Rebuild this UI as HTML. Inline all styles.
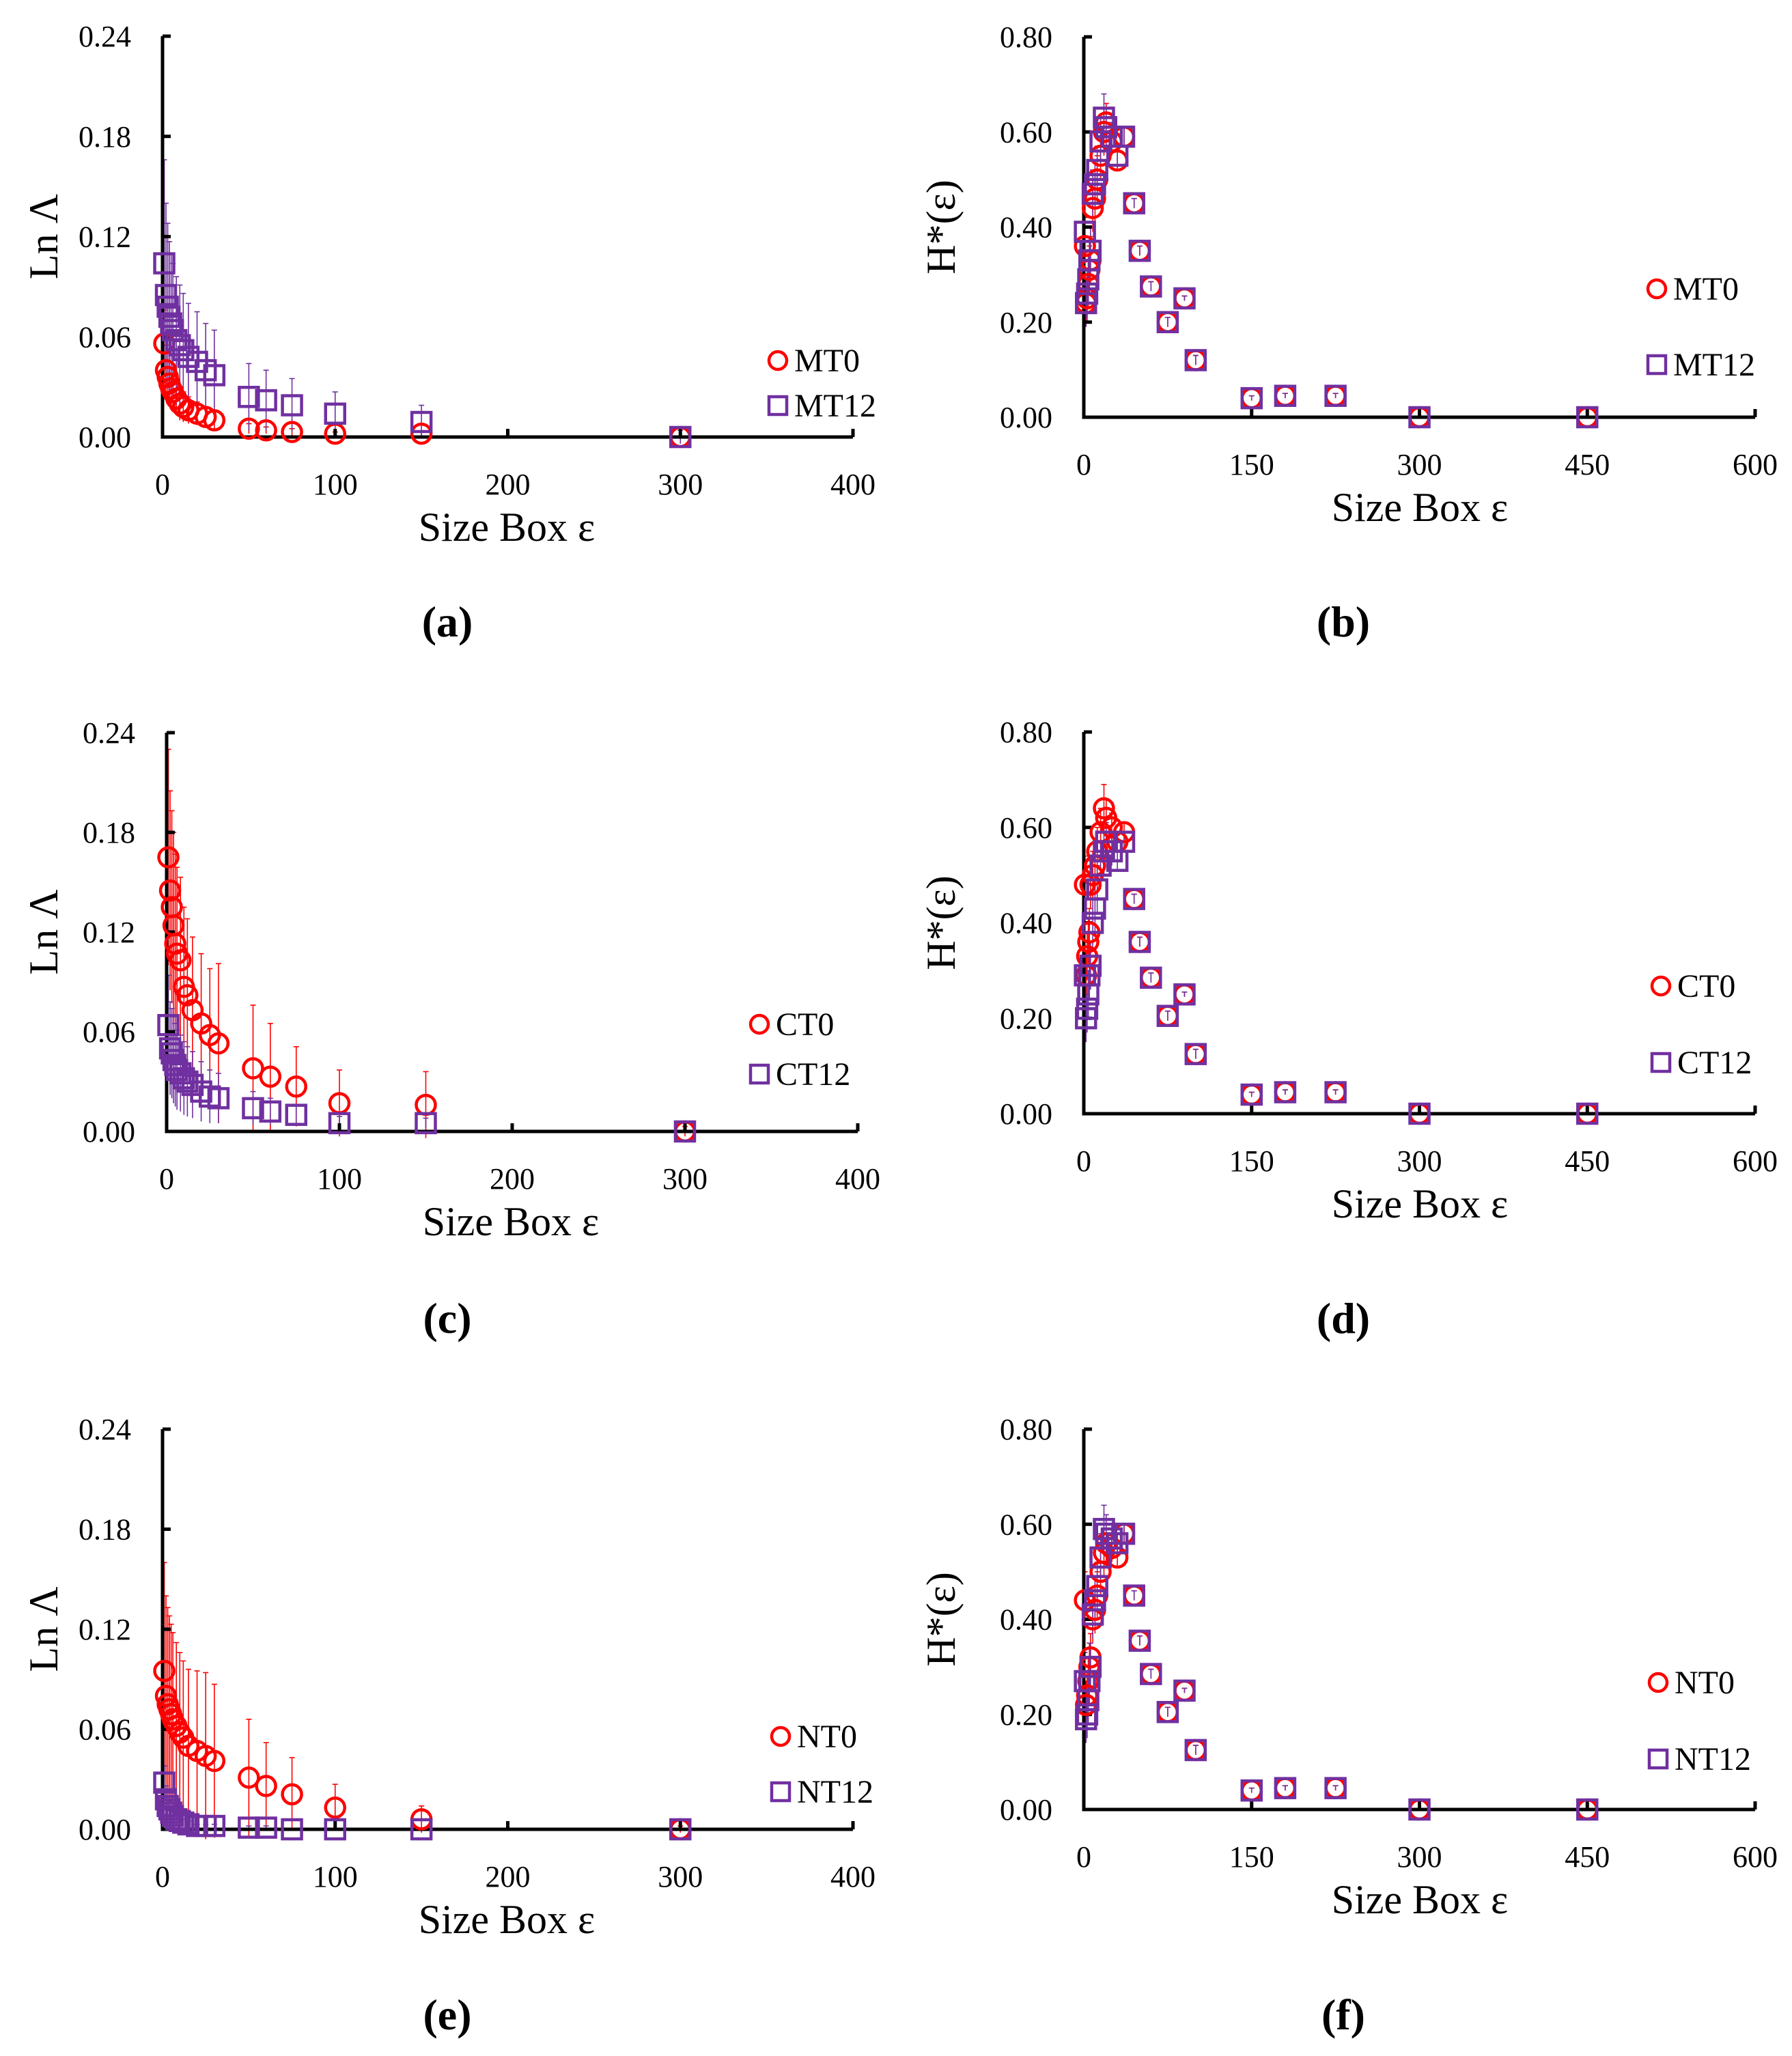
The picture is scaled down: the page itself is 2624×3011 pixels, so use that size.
<!DOCTYPE html>
<html><head><meta charset="utf-8">
<style>
html,body{margin:0;padding:0;background:#fff;}
svg{display:block;font-family:"Liberation Serif",serif;}
</style></head>
<body>
<svg id="fig" width="2624" height="3011" viewBox="0 0 2624 3011" xmlns="http://www.w3.org/2000/svg"></svg>
<script>
// ---- data ----
const lnX = [1,2,3,4,5,6,8,10,12,15,20,25,30,50,60,75,100,150,300];
const MT0ln = [0.056,0.040,0.036,0.032,0.029,0.027,0.023,0.020,0.018,0.016,0.014,0.012,0.010,0.005,0.004,0.003,0.002,0.002,0];
const MT12ln = [0.104,0.085,0.078,0.072,0.068,0.064,0.058,0.055,0.052,0.048,0.045,0.040,0.037,0.024,0.022,0.019,0.014,0.009,0];
const MT0lnErr = [0.02,0.015,0.014,0.013,0.012,0.011,0.01,0.01,0.009,0.008,0.007,0.006,0.005,0.003,0.002,0.002,0.001,0.001,0];
const MT12lnErr = [0.062,0.055,0.05,0.045,0.042,0.04,0.038,0.036,0.034,0.032,0.03,0.028,0.027,0.02,0.018,0.016,0.013,0.01,0.004];
const CT0ln = [0.165,0.145,0.135,0.124,0.113,0.107,0.103,0.087,0.082,0.073,0.065,0.058,0.053,0.038,0.033,0.027,0.017,0.016,0];
const CT12ln = [0.064,0.050,0.047,0.043,0.040,0.037,0.035,0.032,0.030,0.028,0.024,0.021,0.020,0.014,0.012,0.010,0.005,0.005,0];
const CT0lnErr = [0.065,0.06,0.058,0.056,0.054,0.052,0.05,0.048,0.046,0.044,0.042,0.04,0.048,0.038,0.032,0.024,0.02,0.02,0.003];
const CT12lnErr = [0.03,0.028,0.027,0.026,0.025,0.024,0.023,0.022,0.021,0.02,0.018,0.016,0.015,0.01,0.008,0.006,0.004,0.003,0];
const NT0ln = [0.095,0.080,0.075,0.072,0.069,0.066,0.062,0.058,0.055,0.050,0.047,0.044,0.041,0.031,0.026,0.021,0.013,0.006,0];
const NT12ln = [0.028,0.018,0.014,0.012,0.010,0.008,0.006,0.005,0.004,0.003,0.002,0.002,0.002,0.001,0.001,0,0,0,0];
const NT0lnErr = [0.065,0.06,0.058,0.056,0.054,0.052,0.05,0.048,0.046,0.046,0.048,0.05,0.046,0.035,0.026,0.022,0.014,0.008,0.002];
const NT12lnErr = [0.01,0.008,0.006,0.005,0.004,0.003,0.003,0.002,0.002,0.002,0.001,0.001,0.001,0.001,0.001,0,0,0,0];

const hX = [1,2,3,4,5,6,8,10,12,15,18,20,25,30,36,45,50,60,75,90,100,150,180,225,300,450];
const MT0h = [0.36,0.24,0.25,0.28,0.31,0.33,0.44,0.46,0.50,0.55,0.60,0.62,0.58,0.54,0.59,0.45,0.35,0.275,0.20,0.25,0.12,0.04,0.045,0.045,0,0];
const MT12h = [0.39,0.24,0.26,0.29,0.33,0.35,0.47,0.49,0.52,0.58,0.63,0.61,0.59,0.55,0.59,0.45,0.35,0.275,0.20,0.25,0.12,0.04,0.045,0.045,0,0];
const CT0h = [0.48,0.29,0.33,0.36,0.38,0.48,0.50,0.52,0.55,0.59,0.64,0.62,0.60,0.57,0.59,0.45,0.36,0.285,0.205,0.25,0.125,0.04,0.045,0.045,0,0];
const CT12h = [0.29,0.20,0.22,0.25,0.29,0.31,0.40,0.43,0.47,0.52,0.55,0.57,0.55,0.53,0.57,0.45,0.36,0.285,0.205,0.25,0.125,0.04,0.045,0.045,0,0];
const NT0h = [0.44,0.22,0.24,0.27,0.30,0.32,0.40,0.42,0.45,0.50,0.54,0.56,0.55,0.53,0.58,0.45,0.355,0.285,0.205,0.25,0.125,0.04,0.045,0.045,0,0];
const NT12h = [0.27,0.19,0.20,0.23,0.27,0.30,0.41,0.44,0.47,0.53,0.59,0.58,0.57,0.56,0.58,0.45,0.355,0.285,0.205,0.25,0.125,0.04,0.045,0.045,0,0];
const hErr = [0.06,0.05,0.05,0.05,0.05,0.05,0.05,0.05,0.05,0.05,0.05,0.04,0.03,0.02,0.02,0.01,0.01,0.01,0.01,0.005,0.01,0.005,0.005,0.005,0,0];

const lnTicksY = [0,0.06,0.12,0.18,0.24];
const lnTickLabelsY = ["0.00","0.06","0.12","0.18","0.24"];
const lnTicksX = [0,100,200,300,400];
const hTicksY = [0,0.2,0.4,0.6,0.8];
const hTickLabelsY = ["0.00","0.20","0.40","0.60","0.80"];
const hTicksX = [0,150,300,450,600];

const RED = "#ff0000", PUR = "#7030a0";
const NS = "http://www.w3.org/2000/svg";
const svg = document.getElementById('fig');
function mk(tag, attrs, parent, text){
  const e = document.createElementNS(NS, tag);
  for (const k in attrs) e.setAttribute(k, attrs[k]);
  if (text !== undefined) e.textContent = text;
  (parent || svg).appendChild(e);
  return e;
}

function panel(p){
  const g = mk('g', {});
  
  
  const sx = v => p.x0 + (v - 0) / p.xMax * (p.x1 - p.x0);
  const sy = v => p.y0 - v / p.yMax * (p.y0 - p.y1);
  p.series.forEach(s => {
    if (!s.err) return;
    s.vals.forEach((v, i) => {
      const e = s.err[i]; if (!e) return;
      const x = sx(p.xs[i]);
      const l = mk('line', {x1:x, x2:x, y1:sy(v - e), y2:sy(v + e), stroke:s.color, 'stroke-width':1.6}, g);
      
      
      mk('line', {x1:x-4, x2:x+4, y1:sy(v + e), y2:sy(v + e), stroke:s.color, 'stroke-width':1.6}, g);
    });
  });
  const ax = mk('path', {d:`M${p.x0},${p.y1} L${p.x0},${p.y0} L${p.x1},${p.y0}`, fill:'none', stroke:'#000', 'stroke-width':5}, g);
  
  
  p.ticksY.forEach((t, i) => {
    const y = sy(t);
    mk('line', {x1:p.x0, x2:p.x0 + 12, y1:y, y2:y, stroke:'#000', 'stroke-width':5}, g);
    const tl = mk('text', {x:p.x0 - 46, y:y + 15, 'text-anchor':'end', 'font-size':44, fill:'#000'}, g, p.tickLabelsY[i]);
    
    
  });
  p.ticksX.forEach(t => {
    const x = sx(t);
    mk('line', {x1:x, x2:x, y1:p.y0, y2:p.y0 - 12, stroke:'#000', 'stroke-width':5}, g);
    const tl = mk('text', {x:x, y:p.y0 + 84, 'text-anchor':'middle', 'font-size':44, fill:'#000'}, g, String(t));
    
    
  });
  p.series.forEach(s => {
    s.vals.forEach((v, i) => {
      const x = sx(p.xs[i]), y = sy(v);
      let m;
      if (s.shape === 'circle') m = mk('circle', {cx:x, cy:y, r:14, fill:'none', stroke:s.color, 'stroke-width':4.5}, g);
      else m = mk('rect', {x:x-14, y:y-14, width:28, height:28, fill:'none', stroke:s.color, 'stroke-width':4.5}, g);
      
      
    });
  });
  p.series.forEach((s, i) => {
    const lx = p.legX, ly = p.legY[i];
    if (s.shape === 'circle') mk('circle', {cx:lx, cy:ly, r:13, fill:'none', stroke:s.color, 'stroke-width':4.5}, g);
    else mk('rect', {x:lx-13, y:ly-13, width:26, height:26, fill:'none', stroke:s.color, 'stroke-width':4.5}, g);
    const t = mk('text', {x:lx + 24, y:ly + 16, 'font-size':48, fill:'#000'}, g, s.name);
    
    
  });
  const xt = mk('text', {x:p.xTitleX, y:p.y0 + 152, 'text-anchor':'middle', 'font-size':60, fill:'#000'}, g, 'Size Box ε');
  
  
  const ym = (p.y0 + p.y1) / 2;
  const yt = mk('text', {x:p.yTitleX, y:ym, 'text-anchor':'middle', 'font-size':60, fill:'#000', transform:`rotate(-90 ${p.yTitleX} ${ym})`}, g, p.yTitle);
  
  
  const lt = mk('text', {x:p.letterX, y:p.letterY, 'text-anchor':'middle', 'font-size':64, 'font-weight':'bold', fill:'#000'}, g, '(' + p.letter + ')');
  
  
}

const leftCommon = {xs:lnX, xMax:400, yMax:0.24, ticksY:lnTicksY, tickLabelsY:lnTickLabelsY, ticksX:lnTicksX, yTitle:'Ln Λ', yTitleX:84, letterX:655};
const rightCommon = {xs:hX, xMax:600, yMax:0.8, ticksY:hTicksY, tickLabelsY:hTickLabelsY, ticksX:hTicksX, yTitle:'H*(ε)', yTitleX:1398, letterX:1967, x0:1587, x1:2570, xTitleX:2079};

panel(Object.assign({}, leftCommon, {letter:'a', x0:238, x1:1249, y0:640, y1:53, xTitleX:742, letterY:932, legX:1139, legY:[528,594],
  series:[{name:'MT0', shape:'circle', color:RED, vals:MT0ln, err:MT0lnErr},{name:'MT12', shape:'rect', color:PUR, vals:MT12ln, err:MT12lnErr}]}));
panel(Object.assign({}, rightCommon, {letter:'b', y0:611, y1:54, letterY:932, legX:2426, legY:[423,534],
  series:[{name:'MT0', shape:'circle', color:RED, vals:MT0h, err:hErr},{name:'MT12', shape:'rect', color:PUR, vals:MT12h, err:hErr}]}));
panel(Object.assign({}, leftCommon, {letter:'c', x0:244, x1:1256, y0:1657, y1:1073, xTitleX:748, letterY:1952, legX:1112, legY:[1500,1573],
  series:[{name:'CT0', shape:'circle', color:RED, vals:CT0ln, err:CT0lnErr},{name:'CT12', shape:'rect', color:PUR, vals:CT12ln, err:CT12lnErr}]}));
panel(Object.assign({}, rightCommon, {letter:'d', y0:1631, y1:1072, letterY:1952, legX:2432, legY:[1444,1556],
  series:[{name:'CT0', shape:'circle', color:RED, vals:CT0h, err:hErr},{name:'CT12', shape:'rect', color:PUR, vals:CT12h, err:hErr}]}));
panel(Object.assign({}, leftCommon, {letter:'e', x0:238, x1:1249, y0:2679, y1:2093, xTitleX:742, letterY:2972, legX:1143, legY:[2543,2624],
  series:[{name:'NT0', shape:'circle', color:RED, vals:NT0ln, err:NT0lnErr},{name:'NT12', shape:'rect', color:PUR, vals:NT12ln, err:NT12lnErr}]}));
panel(Object.assign({}, rightCommon, {letter:'f', y0:2650, y1:2093, letterY:2972, legX:2428, legY:[2464,2576],
  series:[{name:'NT0', shape:'circle', color:RED, vals:NT0h, err:hErr},{name:'NT12', shape:'rect', color:PUR, vals:NT12h, err:hErr}]}));
</script>
</body></html>
